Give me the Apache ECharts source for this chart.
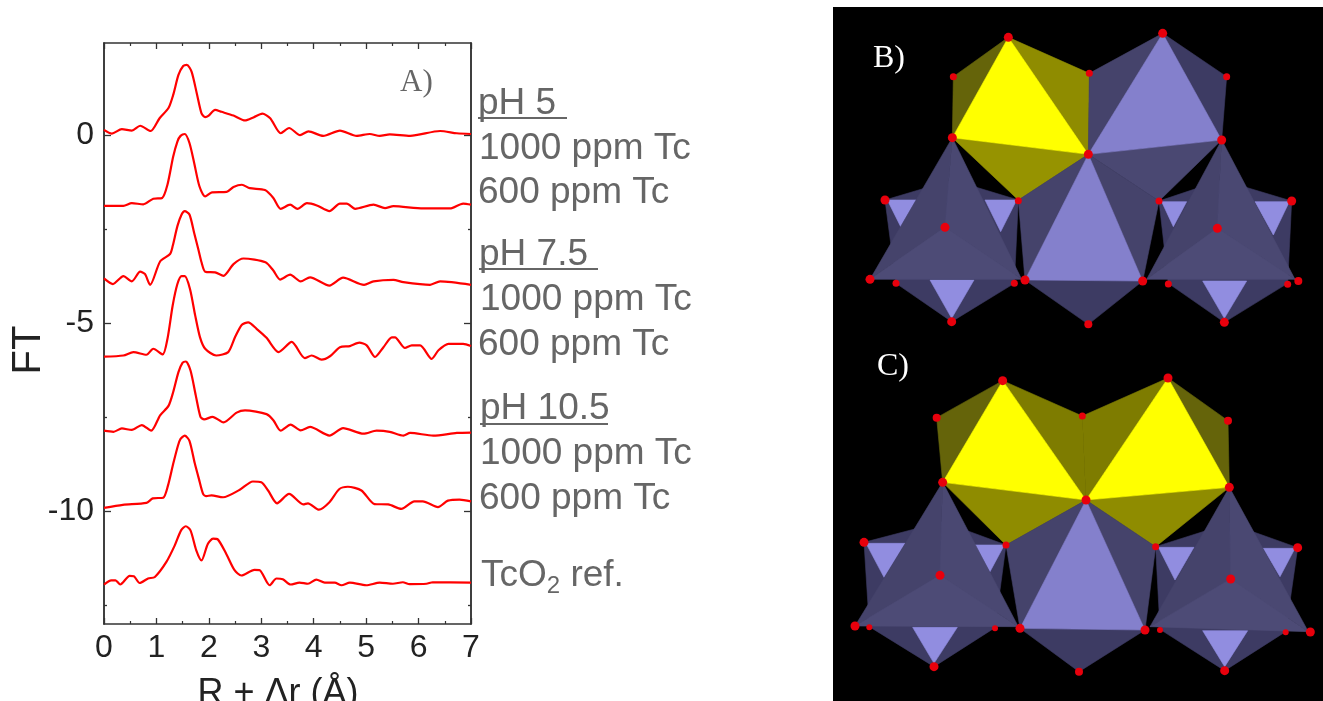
<!DOCTYPE html>
<html><head><meta charset="utf-8">
<script src="https://cdn.jsdelivr.net/npm/echarts@6/dist/echarts.min.js"></script>
<style>html,body{margin:0;padding:0;background:#fff;overflow:hidden}#c{width:1323px;height:701px}</style>
</head><body><div id="c"></div>
<script>
// ---- EXAFS Fourier transforms: [R + dr, FT]
var pH5_1000=[[0,.14],[.15,.04],[.34,.16],[.53,.12],[.69,.25],[.89,.11],[1.06,.45],[1.23,.72],[1.32,1.07],[1.42,1.6],[1.51,1.84],[1.58,1.87],[1.67,1.69],[1.77,1.11],[1.86,.58],[1.93,.48],[1.99,.51],[2.12,.67],[2.24,.62],[2.47,.52],[2.69,.39],[2.85,.47],[3.02,.57],[3.17,.45],[3.37,.05],[3.53,.19],[3.74,0],[3.9,.1],[4.18,-.02],[4.5,.12],[4.82,-.02],[5.07,.03],[5.26,-.02],[5.45,.02],[5.84,-.02],[6.41,.11],[6.73,.05],[7,.03]];
var pH5_600=[[0,-1.88],[.37,-1.88],[.53,-1.81],[.75,-1.84],[.94,-1.69],[1.11,-1.67],[1.21,-1.32],[1.32,-.57],[1.4,-.17],[1.46,-.02],[1.54,.03],[1.63,-.21],[1.72,-.74],[1.82,-1.36],[1.93,-1.63],[2.06,-1.52],[2.34,-1.51],[2.47,-1.38],[2.63,-1.32],[2.78,-1.41],[3.07,-1.46],[3.23,-1.67],[3.37,-1.96],[3.55,-1.85],[3.69,-1.96],[3.87,-1.81],[4.06,-1.87],[4.3,-2.02],[4.5,-1.82],[4.63,-1.82],[4.79,-1.96],[5.14,-1.85],[5.36,-1.94],[5.52,-1.89],[6.09,-1.95],[6.6,-1.95],[6.85,-1.82],[7,-1.85]];
var pH75_1000=[[0,-3.81],[.17,-3.96],[.37,-3.75],[.53,-3.89],[.69,-3.63],[.78,-3.69],[.88,-3.98],[1.07,-3.36],[1.26,-3.16],[1.31,-2.95],[1.4,-2.42],[1.48,-2.11],[1.54,-2.02],[1.63,-2.11],[1.72,-2.6],[1.8,-3.04],[1.86,-3.38],[1.93,-3.63],[2.12,-3.65],[2.28,-3.74],[2.47,-3.43],[2.66,-3.28],[3.08,-3.38],[3.23,-3.6],[3.36,-3.84],[3.55,-3.71],[3.75,-3.89],[3.93,-3.78],[4.3,-4],[4.56,-3.79],[4.96,-3.98],[5.14,-3.89],[5.52,-3.85],[5.71,-3.91],[6.22,-3.98],[6.41,-3.89],[7,-3.98]];
var pH75_600=[[0,-5.89],[.37,-5.86],[.56,-5.77],[.81,-5.84],[.94,-5.68],[1.12,-5.83],[1.21,-5.42],[1.31,-4.53],[1.4,-3.96],[1.48,-3.75],[1.54,-3.75],[1.64,-4.09],[1.74,-4.8],[1.83,-5.37],[1.93,-5.68],[2.14,-5.86],[2.37,-5.77],[2.5,-5.37],[2.63,-5.04],[2.75,-4.98],[2.91,-5.15],[3.1,-5.39],[3.33,-5.77],[3.58,-5.5],[3.83,-5.93],[3.96,-5.86],[4.15,-5.97],[4.31,-5.88],[4.5,-5.64],[4.69,-5.61],[4.87,-5.52],[5.01,-5.59],[5.17,-5.9],[5.33,-5.64],[5.49,-5.38],[5.55,-5.38],[5.74,-5.66],[5.87,-5.59],[6.03,-5.59],[6.25,-5.95],[6.38,-5.72],[6.57,-5.55],[6.85,-5.55],[7,-5.61]];
var pH105_1000=[[0,-7.86],[.18,-7.89],[.34,-7.8],[.53,-7.84],[.72,-7.71],[.9,-7.86],[1.07,-7.45],[1.23,-7.2],[1.32,-6.83],[1.42,-6.3],[1.5,-6.05],[1.56,-6.02],[1.65,-6.26],[1.75,-6.92],[1.84,-7.49],[1.91,-7.56],[2.07,-7.49],[2.28,-7.64],[2.53,-7.38],[2.69,-7.32],[3.1,-7.42],[3.23,-7.58],[3.37,-7.86],[3.56,-7.7],[3.75,-7.85],[3.93,-7.76],[4.3,-7.99],[4.56,-7.79],[4.95,-7.94],[5.2,-7.86],[5.45,-7.89],[5.71,-7.99],[5.84,-7.92],[6.28,-7.99],[6.73,-7.92],[7,-7.91]];
var pH105_600=[[0,-9.91],[.36,-9.83],[.81,-9.78],[.93,-9.66],[1.13,-9.64],[1.22,-9.32],[1.32,-8.74],[1.41,-8.26],[1.46,-8.08],[1.54,-7.99],[1.63,-8.13],[1.73,-8.72],[1.81,-9.14],[1.89,-9.54],[1.95,-9.6],[2.05,-9.58],[2.27,-9.63],[2.59,-9.43],[2.84,-9.21],[3,-9.23],[3.13,-9.45],[3.3,-9.79],[3.53,-9.54],[3.8,-9.82],[3.89,-9.79],[4.1,-9.96],[4.3,-9.76],[4.49,-9.41],[4.65,-9.35],[4.91,-9.45],[5.16,-9.81],[5.42,-9.82],[5.67,-9.94],[5.92,-9.74],[6.08,-9.74],[6.37,-9.89],[6.56,-9.72],[6.78,-9.69],[7,-9.74]];
var tcO2Ref=[[0,-11.95],[.14,-11.84],[.22,-11.84],[.31,-11.95],[.49,-11.72],[.57,-11.73],[.68,-11.91],[.84,-11.79],[.97,-11.75],[1.19,-11.35],[1.35,-10.91],[1.47,-10.51],[1.56,-10.4],[1.65,-10.51],[1.76,-11.04],[1.86,-11.31],[1.98,-10.87],[2.08,-10.73],[2.17,-10.75],[2.33,-11.13],[2.49,-11.57],[2.62,-11.71],[2.87,-11.56],[2.97,-11.57],[3.16,-11.97],[3.29,-11.79],[3.41,-11.81],[3.56,-11.95],[3.73,-11.9],[3.89,-11.93],[4.05,-11.82],[4.21,-11.9],[4.4,-11.9],[4.53,-11.97],[4.69,-11.9],[5,-11.97],[5.26,-11.9],[5.51,-11.93],[5.7,-11.89],[5.83,-11.94],[6.15,-11.93],[6.27,-11.89],[7,-11.9]];
var curves=[pH5_1000,pH5_600,pH75_1000,pH75_600,pH105_1000,pH105_600,tcO2Ref];
var yMajor=[-10,-5,0], yMinor=[-12.5,-7.5,-2.5];

// ---- polyhedra panels, in panel units: [colour, x,y, x,y, x,y ...]
var Y='#ffff00',O1='#65640a',O2='#7e7c00',O3='#8f8c00',O4='#969300',D='#3d3b63',M='#45436b',N='#4a4872',F='#4d4b76',L='#8480cc',P='#918de0';
var facesB=[
[O1,535,112,370,230,367,413],[O3,535,112,778,220,775,463],[O4,367,413,775,463,565,600],[Y,535,112,367,413,775,463],
[M,998,100,778,220,775,463],[D,998,100,1190,230,1175,420],[N,775,463,1175,420,987,603],[L,998,100,775,463,1175,420],
[D,165,600,198,850,365,965,553,850,565,600,367,540],[P,172,600,258,600,212,680],[P,465,600,560,600,512,695],[P,300,840,432,840,365,955],
[M,367,413,120,838,345,682],[N,367,413,345,682,575,838],[F,120,838,345,682,575,838],
[D,987,603,1015,850,1183,967,1373,850,1385,603,1175,540],[P,995,605,1070,605,1030,680],[P,1275,605,1378,605,1330,705],[P,1118,843,1250,843,1183,955],
[M,1175,420,950,838,1162,685],[N,1175,420,1162,685,1395,838],[F,950,838,1162,685,1395,838],
[M,775,463,565,600,585,840],[M,775,463,987,603,938,843],[D,585,840,938,843,775,973],[L,775,463,585,840,938,843]];
var facesC=[
[O1,518,92,320,203,338,397],[O2,518,92,757,198,768,450],[O3,338,397,768,450,528,585],[Y,518,92,338,397,768,450],
[O2,1014,84,757,198,768,450],[O1,1014,84,1194,212,1198,412],[O3,768,450,1198,412,977,590],[Y,1014,84,768,450,1198,412],
[D,102,577,118,830,312,950,495,833,528,585,338,515],[P,108,580,225,580,162,682],[P,435,585,523,585,480,665],[P,248,832,382,832,312,940],
[M,338,397,75,828,330,676],[N,338,397,330,676,565,830],[F,75,828,330,676,565,830],
[D,977,590,990,838,1184,962,1367,845,1403,593,1198,520],[P,985,592,1092,592,1035,690],[P,1300,595,1395,595,1350,680],[P,1118,842,1253,842,1184,950],
[M,1198,412,960,830,1202,687],[N,1198,412,1202,687,1435,845],[F,960,830,1202,687,1435,845],
[M,768,450,528,585,570,835],[M,768,450,977,590,945,840],[D,570,835,945,840,747,965],[L,768,450,570,835,945,840]];
var atomsB=[[535,112,9],[370,230,7],[778,220,7],[367,413,9],[775,463,9],[565,602,7],[998,100,9],[1190,230,7],[1175,420,9],[987,603,7],[165,600,9],[345,682,9],[120,838,9],[198,850,7],[553,850,7],[585,840,9],[365,965,9],[775,973,8],[938,843,9],[1015,852,7],[1373,853,7],[1405,843,8],[1183,967,9],[1385,603,9],[1162,685,9]];
var atomsC=[[518,92,9],[320,203,8],[757,198,7],[338,397,9],[768,450,9],[528,585,7],[1014,84,9],[1194,212,8],[1198,412,9],[977,590,7],[102,577,9],[330,676,9],[75,828,9],[118,832,6],[495,835,6],[570,835,9],[312,950,9],[747,965,8],[945,840,9],[990,840,6],[1367,847,6],[1441,846,9],[1184,962,9],[1403,593,9],[1202,687,9]];

var GRAY='#666666', DARK='#222222', AX='#333333';
var sans='"Liberation Sans", Arial, sans-serif', serif='"Liberation Serif", serif';
function label(x,y,t){return {type:'text',z:20,style:{x:x,y:y+2,text:t,fill:GRAY,font:'37px '+sans,verticalAlign:'middle'}};}
function rule(x1,x2,y){return {type:'line',z:20,shape:{x1:x1,y1:y,x2:x2,y2:y},style:{stroke:GRAY,lineWidth:2}};}
function tag(x,y,t,c,s){return {type:'text',z:30,style:{x:x,y:y,text:t,fill:c,font:s+'px '+serif,verticalAlign:'middle'}};}

function faceSeries(faces,xi,yi){
  return {type:'custom',coordinateSystem:'cartesian2d',xAxisIndex:xi,yAxisIndex:yi,silent:true,clip:false,z:2,
    data:faces.map(function(f,i){return [f[1],f[2],i];}),
    renderItem:function(p,api){
      var f=faces[p.dataIndex],pts=[];
      for(var i=1;i<f.length;i+=2)pts.push(api.coord([f[i],f[i+1]]));
      return {type:'polygon',shape:{points:pts},style:{fill:f[0],stroke:f[0],lineWidth:.6}};
    }};
}
function atomSeries(atoms,xi,yi){
  return {type:'scatter',xAxisIndex:xi,yAxisIndex:yi,silent:true,z:5,symbol:'circle',
    symbolSize:function(v){return v[2];},itemStyle:{color:'#e8000c',opacity:1},data:atoms};
}
function hiddenX(g){return {gridIndex:g,show:false,type:'value',min:9,max:1479};}

var axisBase={type:'value',min:-13,max:2.45,gridIndex:0,splitLine:{show:false},axisLine:{show:true,onZero:false,lineStyle:{color:AX,width:1.5}}};
function yAx(pos,vals,len,labels){
  return Object.assign({},axisBase,{position:pos,
    axisTick:{show:true,inside:true,length:len,customValues:vals,lineStyle:{color:AX,width:1.3}},
    axisLabel:labels?{show:true,customValues:vals,color:DARK,fontFamily:sans,fontSize:32,margin:10,padding:[5,0,0,0]}:{show:false}
  });
}
function xAx(pos,labels){
  return {type:'value',gridIndex:0,min:0,max:7,interval:1,position:pos,splitLine:{show:false},
    axisLine:{show:true,onZero:false,lineStyle:{color:AX,width:1.5}},
    axisTick:{show:true,inside:true,length:6,lineStyle:{color:AX,width:1.3}},
    minorTick:{show:true,splitNumber:2,length:3,lineStyle:{color:AX,width:1.2}},
    axisLabel:labels?{show:true,color:DARK,fontFamily:sans,fontSize:32,margin:8,hideOverlap:false}:{show:false}};
}

var option={
  animation:false,backgroundColor:'#fff',
  grid:[
    {left:104,right:852,top:43,bottom:77,outerBoundsMode:'none',containLabel:false},
    {left:833,right:0,top:7,height:343,backgroundColor:'#000',borderColor:'#000',borderWidth:0,show:true,z:0,outerBoundsMode:'none'},
    {left:833,right:0,top:350,height:351,backgroundColor:'#000',borderColor:'#000',borderWidth:0,show:true,z:0,outerBoundsMode:'none'}
  ],
  xAxis:[xAx('bottom',true),xAx('top',false),hiddenX(1),hiddenX(2)],
  yAxis:[yAx('left',yMajor,7,true),yAx('left',yMinor,3,false),yAx('right',yMajor,7,false),yAx('right',yMinor,3,false),
    {gridIndex:1,show:false,type:'value',min:21,max:1050,inverse:true},
    {gridIndex:2,show:false,type:'value',min:0,max:1053,inverse:true}],
  series:curves.map(function(c){
    return {type:'line',xAxisIndex:0,yAxisIndex:0,data:c,showSymbol:false,smooth:.25,
      lineStyle:{color:'#ff0000',width:2.2},silent:true,z:3};
  }).concat([
    faceSeries(facesB,2,4),atomSeries(atomsB,2,4),
    faceSeries(facesC,3,5),atomSeries(atomsC,3,5)
  ]),
  graphic:[
    label(478,102,'pH 5'),rule(478,567,118),
    label(479,147,'1000 ppm Tc'),label(478,191,'600 ppm Tc'),
    label(479,253,'pH 7.5'),rule(479,598,269),
    label(480,298,'1000 ppm Tc'),label(478,343,'600 ppm Tc'),
    label(480,407,'pH 10.5'),rule(480,608,424),
    label(480,452,'1000 ppm Tc'),label(479,497,'600 ppm Tc'),
    {type:'text',z:20,style:{x:481,y:576,text:'TcO{s|2} ref.',fill:GRAY,font:'37px '+sans,verticalAlign:'middle',
      rich:{s:{fontSize:24,fontFamily:sans,fill:GRAY,verticalAlign:'bottom',lineHeight:44,padding:[10,0,0,0]}}}},
    {type:'text',z:20,x:29,y:350,rotation:Math.PI/2,style:{x:0,y:0,text:'FT',fill:DARK,font:'40px '+sans,align:'center',verticalAlign:'middle'}},
    {type:'text',z:20,style:{x:278,y:694,text:'R + \u0394r (\u00c5)',fill:DARK,font:'36px '+sans,align:'center',verticalAlign:'middle'}},
    tag(400,83,'A)',GRAY,31),
    tag(873,59,'B)','#ffffff',32),
    tag(877,367,'C)','#ffffff',32)
  ]
};
var chart=echarts.init(document.getElementById('c'),null,{renderer:'canvas',width:1323,height:701});
chart.setOption(option);
</script></body></html>
